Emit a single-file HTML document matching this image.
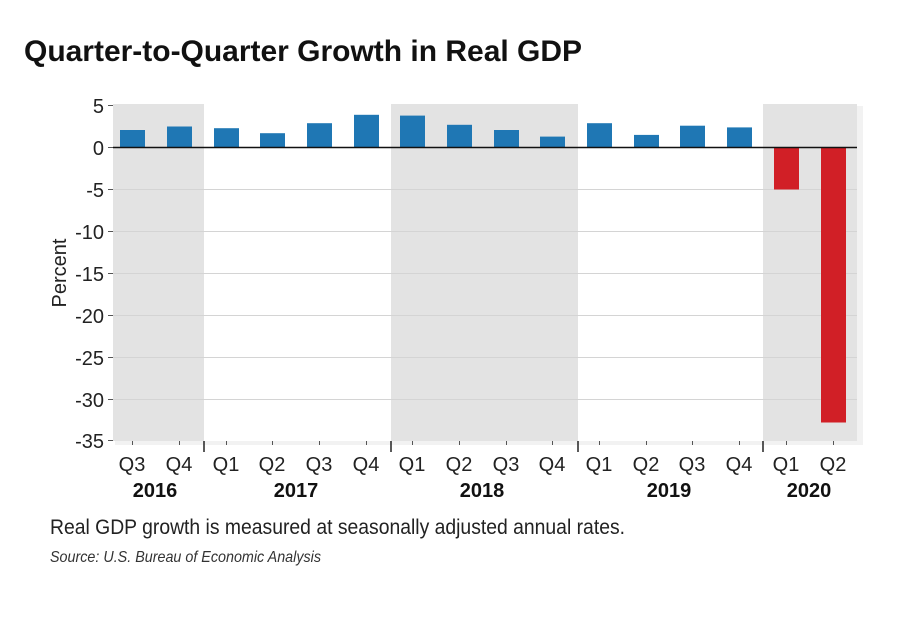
<!DOCTYPE html>
<html><head><style>
body{margin:0;background:#fff;width:920px;height:615px;overflow:hidden}
</style></head><body>
<svg width="920" height="615" xmlns="http://www.w3.org/2000/svg" font-family="'Liberation Sans Narrow','Liberation Sans',sans-serif">
<text x="24" y="61" font-size="30" font-weight="bold" fill="#111" textLength="558" lengthAdjust="spacingAndGlyphs">Quarter-to-Quarter Growth in Real GDP</text>
<rect x="115" y="106" width="748" height="339" fill="#f2f2f2"/>
<rect x="113" y="104" width="744" height="337" fill="#fff"/>
<rect x="113" y="104" width="91" height="337" fill="#e3e3e3"/>
<rect x="391" y="104" width="187" height="337" fill="#e3e3e3"/>
<rect x="763" y="104" width="94" height="337" fill="#e3e3e3"/>
<g stroke="#d4d4d4" stroke-width="1">
<line x1="113" x2="857" y1="189.5" y2="189.5"/><line x1="113" x2="857" y1="231.5" y2="231.5"/>
<line x1="113" x2="857" y1="273.5" y2="273.5"/><line x1="113" x2="857" y1="315.5" y2="315.5"/>
<line x1="113" x2="857" y1="357.5" y2="357.5"/><line x1="113" x2="857" y1="399.5" y2="399.5"/>
</g>
<g stroke="#555" stroke-width="1">
<line x1="108" x2="113" y1="105.5" y2="105.5"/><line x1="108" x2="113" y1="147.5" y2="147.5"/>
<line x1="108" x2="113" y1="189.5" y2="189.5"/><line x1="108" x2="113" y1="231.5" y2="231.5"/>
<line x1="108" x2="113" y1="273.5" y2="273.5"/><line x1="108" x2="113" y1="315.5" y2="315.5"/>
<line x1="108" x2="113" y1="357.5" y2="357.5"/><line x1="108" x2="113" y1="399.5" y2="399.5"/>
<line x1="108" x2="113" y1="440.5" y2="440.5"/>
</g>
<g fill="#222" font-size="20" text-anchor="end">
<text x="104" y="113">5</text><text x="104" y="155">0</text><text x="104" y="197">-5</text>
<text x="104" y="239">-10</text><text x="104" y="281">-15</text><text x="104" y="323">-20</text>
<text x="104" y="365">-25</text><text x="104" y="407">-30</text><text x="104" y="448">-35</text>
</g>
<text transform="translate(66,273) rotate(-90)" font-size="20" text-anchor="middle" fill="#222">Percent</text>
<g fill="#1f77b4">
<rect x="120" y="130" width="25" height="17.5"/>
<rect x="167" y="126.5" width="25" height="21"/>
<rect x="214" y="128.2" width="25" height="19.3"/>
<rect x="260" y="133.2" width="25" height="14.3"/>
<rect x="307" y="123.2" width="25" height="24.3"/>
<rect x="354" y="114.8" width="25" height="32.7"/>
<rect x="400" y="115.6" width="25" height="31.9"/>
<rect x="447" y="124.8" width="25" height="22.7"/>
<rect x="494" y="130" width="25" height="17.5"/>
<rect x="540" y="136.6" width="25" height="10.9"/>
<rect x="587" y="123.2" width="25" height="24.3"/>
<rect x="634" y="134.9" width="25" height="12.6"/>
<rect x="680" y="125.7" width="25" height="21.8"/>
<rect x="727" y="127.4" width="25" height="20.1"/>
</g>
<g fill="#d11f26">
<rect x="774" y="147.5" width="25" height="42"/>
<rect x="821" y="147.5" width="25" height="275"/>
</g>
<line x1="113" x2="857" y1="147.5" y2="147.5" stroke="#111" stroke-width="1.5"/>
<g stroke="#555" stroke-width="1">
<line x1="132.5" x2="132.5" y1="441" y2="445"/><line x1="179.5" x2="179.5" y1="441" y2="445"/>
<line x1="226.5" x2="226.5" y1="441" y2="445"/><line x1="272.5" x2="272.5" y1="441" y2="445"/>
<line x1="319.5" x2="319.5" y1="441" y2="445"/><line x1="366.5" x2="366.5" y1="441" y2="445"/>
<line x1="412.5" x2="412.5" y1="441" y2="445"/><line x1="459.5" x2="459.5" y1="441" y2="445"/>
<line x1="506.5" x2="506.5" y1="441" y2="445"/><line x1="552.5" x2="552.5" y1="441" y2="445"/>
<line x1="599.5" x2="599.5" y1="441" y2="445"/><line x1="646.5" x2="646.5" y1="441" y2="445"/>
<line x1="692.5" x2="692.5" y1="441" y2="445"/><line x1="739.5" x2="739.5" y1="441" y2="445"/>
<line x1="786.5" x2="786.5" y1="441" y2="445"/><line x1="833.5" x2="833.5" y1="441" y2="445"/>
</g>
<g stroke="#222" stroke-width="1.5">
<line x1="204" x2="204" y1="441" y2="452"/><line x1="391" x2="391" y1="441" y2="452"/>
<line x1="578" x2="578" y1="441" y2="452"/><line x1="763" x2="763" y1="441" y2="452"/>
</g>
<g fill="#222" font-size="20" text-anchor="middle">
<text x="132" y="471">Q3</text><text x="179" y="471">Q4</text>
<text x="226" y="471">Q1</text><text x="272" y="471">Q2</text><text x="319" y="471">Q3</text><text x="366" y="471">Q4</text>
<text x="412" y="471">Q1</text><text x="459" y="471">Q2</text><text x="506" y="471">Q3</text><text x="552" y="471">Q4</text>
<text x="599" y="471">Q1</text><text x="646" y="471">Q2</text><text x="692" y="471">Q3</text><text x="739" y="471">Q4</text>
<text x="786" y="471">Q1</text><text x="833" y="471">Q2</text>
</g>
<g fill="#111" font-size="20" font-weight="bold" text-anchor="middle">
<text x="155" y="497">2016</text><text x="296" y="497">2017</text><text x="482" y="497">2018</text>
<text x="669" y="497">2019</text><text x="809" y="497">2020</text>
</g>
<text x="50" y="534" font-size="21" fill="#222" textLength="575" lengthAdjust="spacingAndGlyphs">Real GDP growth is measured at seasonally adjusted annual rates.</text>
<text x="50" y="562" font-size="16" font-style="italic" fill="#333" textLength="271" lengthAdjust="spacingAndGlyphs">Source: U.S. Bureau of Economic Analysis</text>
</svg>
</body></html>
